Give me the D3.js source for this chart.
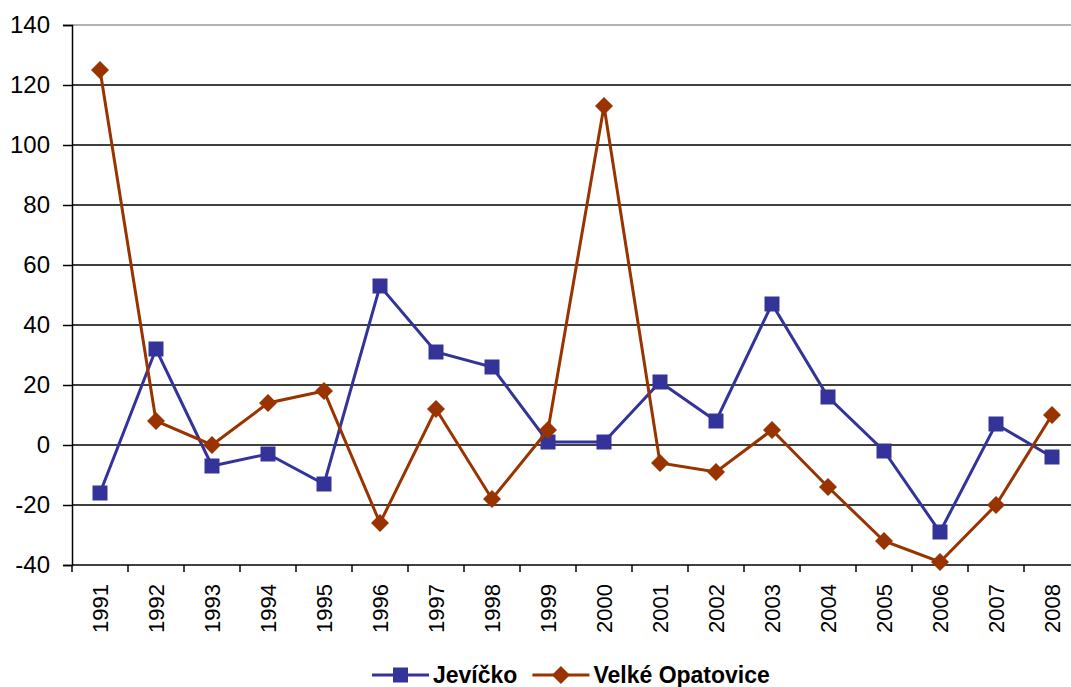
<!DOCTYPE html>
<html>
<head>
<meta charset="utf-8">
<script src="https://cdn.jsdelivr.net/npm/d3@7"></script>
<style>
  body { margin: 0; background: #fff; }
  svg { display: block; font-family: "Liberation Sans", Arial, sans-serif; }
</style>
</head>
<body>
<svg id="chart"></svg>
<script>
const years = [1991, 1992, 1993, 1994, 1995, 1996, 1997, 1998, 1999,
  2000, 2001, 2002, 2003, 2004, 2005, 2006, 2007, 2008];
const jevicko = [-16, 32, -7, -3, -13, 53, 31, 26, 1, 1, 21, 8, 47, 16, -2, -29, 7, -4];
const opatovice = [125, 8, 0, 14, 18, -26, 12, -18, 5, 113, -6, -9, 5, -14, -32, -39, -20, 10];
const yTicks = [-40, -20, 0, 20, 40, 60, 80, 100, 120, 140];

const W = 1071, H = 687;
const margin = { top: 25, left: 72 };
const plotW = 18 * 56, plotH = 540;

const svg = d3.select("#chart").attr("width", W).attr("height", H);
const g = svg.append("g").attr("transform", `translate(${margin.left},${margin.top})`);

const x = d3.scaleBand().domain(years).range([0, plotW]);
const y = d3.scaleLinear().domain([-40, 140]).range([plotH, 0]);

// gridlines
g.append("g")
  .selectAll("line")
  .data(yTicks.filter((d) => d > -40))
  .join("line")
  .attr("x1", 0)
  .attr("x2", plotW)
  .attr("y1", (d) => y(d))
  .attr("y2", (d) => y(d))
  .attr("stroke", (d) => (d === 140 ? "#999" : "#000"))
  .attr("stroke-width", 1.5);

// Y axis
const yAxis = g.append("g")
  .call(d3.axisLeft(y).tickValues(yTicks).tickFormat((d) => String(d)).tickSize(9).tickPadding(13));
yAxis.select(".domain").attr("stroke-width", 1.5);
yAxis.selectAll(".tick line").attr("stroke-width", 1.5);
yAxis.selectAll("text")
  .attr("font-size", "24px")
  .attr("fill", "#000")
  .attr("font-family", "Liberation Sans, Arial, sans-serif");

// X axis
const xAxis = g.append("g")
  .attr("transform", `translate(0,${plotH})`)
  .call(d3.axisBottom(x).tickSize(0).tickPadding(0));
xAxis.select(".domain").remove();
xAxis.append("line")
  .attr("x1", 0).attr("x2", plotW)
  .attr("stroke", "#000").attr("stroke-width", 1.5);
xAxis.selectAll(".xt")
  .data(d3.range(years.length + 1))
  .join("line")
  .attr("x1", (i) => i * x.step())
  .attr("x2", (i) => i * x.step())
  .attr("y1", 0).attr("y2", 7)
  .attr("stroke", "#000").attr("stroke-width", 1.5);
xAxis.selectAll(".tick text")
  .attr("font-size", "22px")
  .attr("fill", "#000")
  .attr("font-family", "Liberation Sans, Arial, sans-serif")
  .attr("text-anchor", "end")
  .attr("dy", "0.35em")
  .attr("transform", "translate(0,19) rotate(-90)");

const cx = (d, i) => x(years[i]) + x.bandwidth() / 2;
const line = d3.line().x((d, i) => cx(d, i)).y((d) => y(d));

const series = [
  { name: "Jevíčko", values: jevicko, color: "#333399", marker: "square" },
  { name: "Velké Opatovice", values: opatovice, color: "#993300", marker: "diamond" },
];

const square = (s) => `M${-s / 2},${-s / 2}h${s}v${s}h${-s}Z`;
const diamond = (s) => `M0,${-s / 2}L${s / 2},0L0,${s / 2}L${-s / 2},0Z`;

series.forEach((s) => {
  g.append("path")
    .datum(s.values)
    .attr("fill", "none")
    .attr("stroke", s.color)
    .attr("stroke-width", 3)
    .attr("d", line);
  g.append("g")
    .selectAll("path")
    .data(s.values)
    .join("path")
    .attr("transform", (d, i) => `translate(${cx(d, i)},${y(d)})`)
    .attr("d", s.marker === "square" ? square(15) : diamond(18))
    .attr("fill", s.color);
});

// Legend
const legend = svg.append("g").attr("transform", "translate(372,675)");
let lx = 0;
series.forEach((s, i) => {
  const item = legend.append("g").attr("transform", `translate(${lx},0)`);
  item.append("line")
    .attr("x1", 0).attr("x2", 57)
    .attr("stroke", s.color).attr("stroke-width", 3);
  item.append("path")
    .attr("transform", "translate(28.5,0)")
    .attr("d", s.marker === "square" ? square(15) : diamond(18))
    .attr("fill", s.color);
  const t = item.append("text")
    .attr("x", 61)
    .attr("dy", "0.36em")
    .attr("font-size", "23px")
    .attr("font-weight", "bold")
    .text(s.name);
  lx += 61 + t.node().getComputedTextLength() + 15;
});
</script>
</body>
</html>
